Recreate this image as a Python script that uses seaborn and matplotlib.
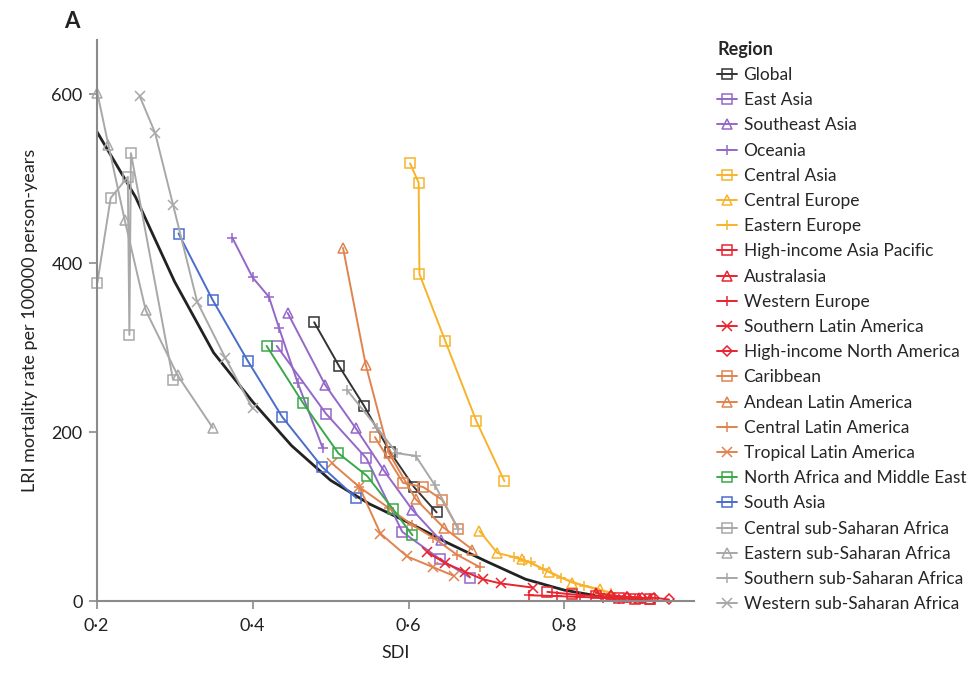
import numpy as np
import pandas as pd
import matplotlib
matplotlib.use("Agg")
import matplotlib.pyplot as plt
import seaborn as sns

# ---------------- data ----------------
regions = ["Global", "East Asia", "Southeast Asia", "Oceania", "Central Asia",
           "Central Europe", "Eastern Europe", "High-income Asia Pacific",
           "Australasia", "Western Europe", "Southern Latin America",
           "High-income North America", "Caribbean", "Andean Latin America",
           "Central Latin America", "Tropical Latin America",
           "North Africa and Middle East", "South Asia",
           "Central sub-Saharan Africa", "Eastern sub-Saharan Africa",
           "Southern sub-Saharan Africa", "Western sub-Saharan Africa"]

sdi_global = [0.479, 0.511, 0.543, 0.576, 0.607, 0.636]
lri_global = [330, 278, 231, 177, 135, 105]
sdi_east_asia = [0.431, 0.494, 0.546, 0.592, 0.640, 0.679]
lri_east_asia = [302, 222, 169, 82, 50, 28]
sdi_se_asia = [0.445, 0.493, 0.532, 0.568, 0.605, 0.641]
lri_se_asia = [341, 256, 205, 155, 108, 72]
sdi_oceania = [0.374, 0.400, 0.421, 0.434, 0.458, 0.490]
lri_oceania = [430, 383, 360, 323, 258, 181]
sdi_central_asia = [0.602, 0.613, 0.614, 0.647, 0.687, 0.723]
lri_central_asia = [518, 495, 387, 308, 213, 142]
sdi_central_europe = [0.691, 0.714, 0.745, 0.780, 0.810, 0.845]
lri_central_europe = [83, 57, 50, 35, 22, 14]
sdi_eastern_europe = [0.735, 0.748, 0.757, 0.772, 0.795, 0.825, 0.860]
lri_eastern_europe = [52, 48, 46, 38, 28, 18, 10]
sdi_hi_asia_pac = [0.778, 0.810, 0.840, 0.870, 0.890, 0.910]
lri_hi_asia_pac = [11, 8, 6, 4, 3, 3]
sdi_australasia = [0.840, 0.860, 0.880, 0.895, 0.910]
lri_australasia = [10, 7, 5, 4, 3]
sdi_western_europe = [0.755, 0.790, 0.820, 0.850, 0.870, 0.890]
lri_western_europe = [7, 6, 5, 4, 3, 3]
sdi_southern_latam = [0.624, 0.647, 0.672, 0.695, 0.718, 0.760]
lri_southern_latam = [58, 45, 35, 26, 21, 16]
sdi_hi_north_am = [0.860, 0.880, 0.900, 0.915, 0.934]
lri_hi_north_am = [6, 5, 4, 4, 2]
sdi_caribbean = [0.557, 0.593, 0.619, 0.643, 0.664]
lri_caribbean = [194, 140, 135, 120, 85]
sdi_andean = [0.516, 0.545, 0.575, 0.609, 0.645, 0.682]
lri_andean = [418, 280, 175, 121, 87, 61]
sdi_central_latam = [0.537, 0.575, 0.605, 0.632, 0.662, 0.692]
lri_central_latam = [135, 110, 90, 75, 55, 40]
sdi_tropical_latam = [0.502, 0.537, 0.564, 0.598, 0.632, 0.658]
lri_tropical_latam = [163, 135, 80, 53, 40, 30]
sdi_nafme = [0.418, 0.465, 0.510, 0.547, 0.580, 0.605]
lri_nafme = [302, 234, 175, 148, 109, 78]
sdi_south_asia = [0.305, 0.349, 0.394, 0.438, 0.489, 0.533]
lri_south_asia = [435, 356, 284, 218, 159, 122]
sdi_central_ssa = [0.201, 0.218, 0.240, 0.242, 0.244, 0.298]
lri_central_ssa = [377, 477, 502, 315, 530, 262]
sdi_eastern_ssa = [0.201, 0.215, 0.236, 0.263, 0.304, 0.349]
lri_eastern_ssa = [601, 540, 451, 344, 267, 205]
sdi_southern_ssa = [0.521, 0.560, 0.585, 0.609, 0.634, 0.664]
lri_southern_ssa = [250, 205, 175, 172, 137, 85]
sdi_western_ssa = [0.255, 0.275, 0.298, 0.329, 0.365, 0.400]
lri_western_ssa = [598, 554, 469, 354, 288, 228]

# expected-value curve (black)
sdi_expected = [0.20, 0.25, 0.30, 0.35, 0.40, 0.45, 0.50, 0.55, 0.60,
                0.65, 0.70, 0.75, 0.80, 0.85, 0.90]
lri_expected = [556, 478, 378, 294, 236, 184, 143, 115, 93,
                69, 47, 26, 13, 5, 3]

series = [
    (sdi_global, lri_global), (sdi_east_asia, lri_east_asia),
    (sdi_se_asia, lri_se_asia), (sdi_oceania, lri_oceania),
    (sdi_central_asia, lri_central_asia), (sdi_central_europe, lri_central_europe),
    (sdi_eastern_europe, lri_eastern_europe), (sdi_hi_asia_pac, lri_hi_asia_pac),
    (sdi_australasia, lri_australasia), (sdi_western_europe, lri_western_europe),
    (sdi_southern_latam, lri_southern_latam), (sdi_hi_north_am, lri_hi_north_am),
    (sdi_caribbean, lri_caribbean), (sdi_andean, lri_andean),
    (sdi_central_latam, lri_central_latam), (sdi_tropical_latam, lri_tropical_latam),
    (sdi_nafme, lri_nafme), (sdi_south_asia, lri_south_asia),
    (sdi_central_ssa, lri_central_ssa), (sdi_eastern_ssa, lri_eastern_ssa),
    (sdi_southern_ssa, lri_southern_ssa), (sdi_western_ssa, lri_western_ssa),
]

x_ticks = [0.2, 0.4, 0.6, 0.8]
x_tick_labels = ["0·2", "0·4", "0·6", "0·8"]
y_ticks = [0, 200, 400, 600]

# ---------------- styles ----------------
PURPLE = "#9467c9"
YELLOW = "#f7b32b"
RED = "#e8242f"
ORANGE = "#e0834f"
GREEN = "#3aa84a"
BLUE = "#4a6ccc"
GREY = "#a8a8a8"
colors = [ "#333333", PURPLE, PURPLE, PURPLE, YELLOW, YELLOW, YELLOW,
           RED, RED, RED, RED, RED, ORANGE, ORANGE, ORANGE, ORANGE,
           GREEN, BLUE, GREY, GREY, GREY, GREY]
markers = ["s", "s", "^", "+", "s", "^", "+", "s", "^", "+", "x", "D",
           "s", "^", "+", "x", "s", "s", "s", "^", "+", "x"]

rows = []
for reg, (xs, ys) in zip(regions, series):
    for i, (xv, yv) in enumerate(zip(xs, ys)):
        rows.append({"Region": reg, "SDI": xv, "LRI": yv, "order": i})
df = pd.DataFrame(rows)
curve = pd.DataFrame({"SDI": sdi_expected, "LRI": lri_expected})

sns.set_theme(style="white")
plt.rcParams["font.family"] = ["Lato", "DejaVu Sans"]

fig = plt.figure(figsize=(9.76, 6.77), dpi=100)
ax = fig.add_axes([0.099, 0.112, 0.612, 0.829])

handles = []
for reg, col, mk in zip(regions, colors, markers):
    sub = df[df["Region"] == reg]
    sns.lineplot(data=sub, x="SDI", y="LRI", sort=False, estimator=None,
                 color=col, marker=mk, ax=ax, legend=False, linewidth=1.4)
    ln = ax.lines[-1]
    ln.set_markerfacecolor("none")
    ln.set_markeredgecolor(col)
    ln.set_markeredgewidth(1.1)
    ln.set_markersize(6.5 if mk != "D" else 5.5)
    ln.set_clip_on(False)
    ln.set_label(reg)
    handles.append(ln)

sns.lineplot(data=curve, x="SDI", y="LRI", sort=False, estimator=None,
             color="#222222", linewidth=2.0, ax=ax, legend=False)
ax.lines[-1].set_zorder(1.5)

ax.set_xlim(0.2, 0.966)
ax.set_ylim(0, 664)
ax.set_xticks(x_ticks)
ax.set_xticklabels(x_tick_labels)
ax.set_yticks(y_ticks)
for s in ["top", "right"]:
    ax.spines[s].set_visible(False)
for s in ["left", "bottom"]:
    ax.spines[s].set_color("#8a8a8a")
    ax.spines[s].set_linewidth(1.5)
ax.tick_params(axis="both", direction="out", length=6, width=1.2, pad=4,
               color="#8a8a8a", labelsize=13, labelcolor="#222222",
               bottom=True, left=True)
ax.tick_params(axis="x", pad=6)
ax.set_xlabel("SDI", fontsize=13, color="#222222", labelpad=8)
ax.set_ylabel("LRI mortality rate per 100000 person-years", fontsize=13,
              color="#222222", labelpad=10)

fig.text(0.066, 0.968, "A", fontsize=16, fontweight="bold", color="#222222",
         ha="left", va="center")

leg = fig.legend(handles=handles, labels=regions, loc="upper left",
                 bbox_to_anchor=(0.728, 0.95), frameon=False, fontsize=12.5,
                 title="Region", title_fontproperties={"weight": "bold", "size": 13},
                 handlelength=1.1, handletextpad=0.4, labelspacing=0.53,
                 borderaxespad=0)
leg._legend_box.align = "left"

fig.savefig("out.png", dpi=100)
